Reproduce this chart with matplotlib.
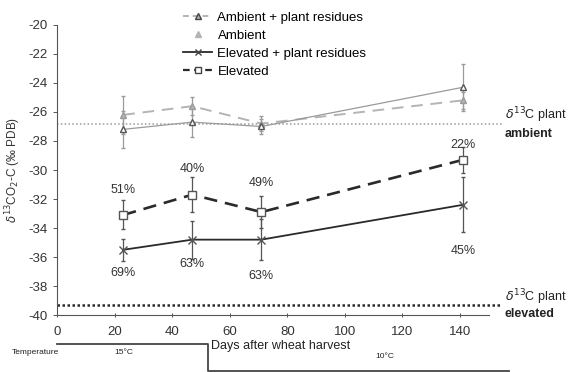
import numpy as np
import matplotlib
matplotlib.use("Agg")
import matplotlib.pyplot as plt
from matplotlib.lines import Line2D

plt.rcParams['font.family'] = ['Liberation Sans', 'DejaVu Sans']
plt.rcParams['axes.unicode_minus'] = False

# sampling days after wheat harvest
days = [23, 47, 71, 141]

# delta 13C of soil CO2 per treatment, with error bars
amb_res = [-27.2, -26.7, -27.0, -24.3]
amb_res_err = [1.3, 1.0, 0.5, 1.6]
amb = [-26.2, -25.6, -26.8, -25.2]
amb_err = [1.3, 0.6, 0.5, 0.6]
elev_res = [-35.5, -34.8, -34.8, -32.4]
elev_res_err = [0.75, 1.3, 1.4, 1.9]
elev = [-33.1, -31.7, -32.9, -29.3]
elev_err = [1.0, 1.2, 1.1, 0.9]

# share of new carbon (%)
elev_pct = ["51%", "40%", "49%", "22%"]
elev_pct_y = [-31.4, -29.9, -30.9, -28.3]
elev_res_pct = ["69%", "63%", "63%", "45%"]
elev_res_pct_y = [-37.1, -36.5, -37.3, -35.6]

plant_ambient = -26.8
plant_elevated = -39.3

# temperature regime
temp_change_day = 52.4
temp_end_day = 157

gray = '#9a9a9a'
light = '#b4b4b4'
dark = '#2a2a2a'

fig = plt.figure(figsize=(5.73, 3.72), dpi=100)
ax = fig.add_axes([0.0995, 0.153, 0.7535, 0.78])

# plant reference lines
ax.plot([0, 154.5], [plant_ambient] * 2, ls=(0, (1, 1.5)), color=gray, lw=1.1, clip_on=False)
ax.plot([0, 154.5], [plant_elevated] * 2, ls=(0, (1, 1)), color=dark, lw=1.8, clip_on=False)

ax.errorbar(days, amb, yerr=amb_err, color=light, ls=(0, (6, 4)), lw=1.4,
            marker='^', ms=5, mfc=light, mec=gray, ecolor=gray, elinewidth=0.9, capsize=1.5)
ax.errorbar(days, amb_res, yerr=amb_res_err, color=gray, ls='-', lw=0.9,
            marker='^', ms=5, mfc='white', mec='#555555', ecolor=gray, elinewidth=0.9, capsize=1.5)
ax.errorbar(days, elev, yerr=elev_err, color=dark, ls=(0, (5, 3)), lw=1.9,
            marker='s', ms=5.5, mfc='white', mec='#555555', ecolor='#555555', elinewidth=0.9, capsize=1.5)
ax.errorbar(days, elev_res, yerr=elev_res_err, color=dark, ls='-', lw=1.3,
            marker='x', ms=6, mec='#555555', ecolor='#555555', elinewidth=0.9, capsize=1.5)

for d, t, y in zip(days, elev_pct, elev_pct_y):
    ax.text(d, y, t, ha='center', va='center', fontsize=9, color='#333333')
for d, t, y in zip(days, elev_res_pct, elev_res_pct_y):
    ax.text(d, y, t, ha='center', va='center', fontsize=9, color='#333333')

ax.set_xlim(0, 150)
ax.set_ylim(-40, -20)
ax.set_xticks(range(0, 141, 20))
ax.set_yticks(range(-40, -19, 2))
ax.spines['top'].set_visible(False)
ax.spines['right'].set_visible(False)
for s in ('left', 'bottom'):
    ax.spines[s].set_color('#555555')
    ax.spines[s].set_linewidth(0.8)
ax.tick_params(axis='both', labelsize=9.5, colors='#555555', labelcolor='#333333', length=3, width=0.7)
ax.tick_params(axis='x', direction='inout', pad=6)
ax.set_ylabel(r'$\delta^{13}$CO$_2$-C (‰ PDB)', fontsize=8.5, color='#333333', labelpad=4)

# plant labels at the right
ax.text(155.5, plant_ambient + 0.55, r'$\delta^{13}$C plant', fontsize=9, va='center', color='#222222')
ax.text(155.5, plant_ambient - 0.7, 'ambient', fontsize=9, va='center', fontweight='bold', color='#222222')
ax.text(155.5, plant_elevated + 0.55, r'$\delta^{13}$C plant', fontsize=9, va='center', color='#222222')
ax.text(155.5, plant_elevated - 0.65, 'elevated', fontsize=9, va='center', fontweight='bold', color='#222222')

# temperature step below the axis
ax.plot([0, temp_change_day, temp_change_day, temp_end_day], [-42.0, -42.0, -43.85, -43.85],
        color='#444444', lw=1.3, clip_on=False)
ax.text(-15.8, -42.6, 'Temperature', fontsize=6, va='center', color='#222222')
ax.text(20, -42.6, '15°C', fontsize=6, va='center', color='#222222')
ax.text(110.5, -42.85, '10°C', fontsize=6, va='center', color='#222222')
ax.text(53.5, -42.1, 'Days after wheat harvest', fontsize=9, va='center', color='#222222')

handles = [
    Line2D([], [], color=light, ls=(0, (3, 2)), lw=1.4, marker='^', ms=4, mfc=light, mec='#444444'),
    Line2D([], [], ls='none', marker='^', ms=4, mfc=light, mec=light),
    Line2D([], [], color=dark, lw=1.3, marker='x', ms=5, mec='#444444'),
    Line2D([], [], color=dark, ls=(0, (3, 2)), lw=1.6, marker='s', ms=5, mfc='white', mec='#444444'),
]
labels = ['Ambient + plant residues', 'Ambient', 'Elevated + plant residues', 'Elevated']
ax.legend(handles, labels, loc='upper left', bbox_to_anchor=(0.28, 1.065), frameon=False,
          fontsize=9.5, handlelength=2.2, handletextpad=0.4, labelspacing=0.45, borderaxespad=0)

fig.savefig('out.png', dpi=100)
